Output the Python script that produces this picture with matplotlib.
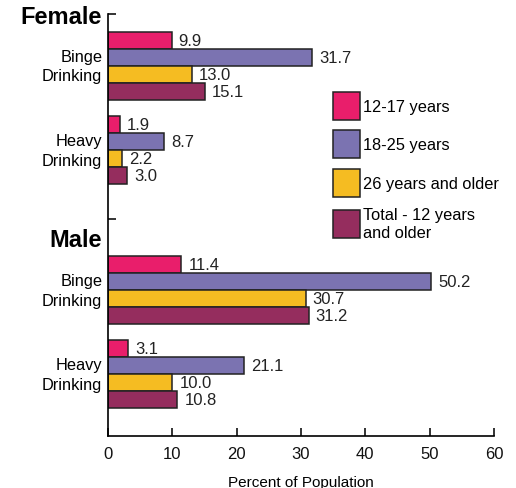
import matplotlib.pyplot as plt
import numpy as np

plt.rcParams['font.family'] = ['Liberation Sans', 'DejaVu Sans']

# data
groups = ['Female', 'Male']
measures = ['Binge\nDrinking', 'Heavy\nDrinking']
series = ['12-17 years', '18-25 years', '26 years and older', 'Total - 12 years\nand older']
colors = ['#E91E6B', '#7B73B1', '#F5BC22', '#952D5E']
female_binge = [9.9, 31.7, 13.0, 15.1]
female_heavy = [1.9, 8.7, 2.2, 3.0]
male_binge = [11.4, 50.2, 30.7, 31.2]
male_heavy = [3.1, 21.1, 10.0, 10.8]
values = [female_binge, female_heavy, male_binge, male_heavy]

# layout of the groups (in bar-height units, top of axis = 0)
group_start = [1.06, 6.0, 14.24, 19.18]
y_bottom = 24.8
y_mid_tick = 12.06

fig = plt.figure(figsize=(5.16, 4.89), dpi=100)
ax = fig.add_axes([0.2093, 0.1063, 0.7481, 0.863])

for s in range(4):
    ys = [g + s + 0.5 for g in group_start]
    vals = [v[s] for v in values]
    bars = ax.barh(ys, vals, height=1.0, color=colors[s], edgecolor='#222222',
                   linewidth=1.1, label=series[s])
    ax.bar_label(bars, labels=[f'{v:.1f}' for v in vals], padding=5, fontsize=12, color='#222222')

ax.set_xlim(0, 60)
ax.set_ylim(y_bottom, 0)
ax.set_xticks(range(0, 61, 10))
ax.set_yticks([0, y_mid_tick])
ax.set_yticklabels([])
ax.tick_params(axis='both', direction='in', length=6, width=1.2, colors='#111111', labelsize=12, pad=7)
ax.spines['top'].set_visible(False)
ax.spines['right'].set_visible(False)
ax.spines['left'].set_linewidth(1.2)
ax.spines['bottom'].set_linewidth(1.2)
ax.set_xlabel('Percent of Population', fontsize=11, labelpad=10)

# category labels
for i, g in enumerate(group_start):
    ax.text(-0.9, g + 2.0, measures[i % 2], ha='right', va='center', fontsize=11.8,
            linespacing=1.4, transform=ax.transData)

# group titles
ax.text(-0.9, 0.15, groups[0], ha='right', va='center', fontsize=17, fontweight='bold')
ax.text(-0.9, 13.25, groups[1], ha='right', va='center', fontsize=17, fontweight='bold')

ax.legend(loc='upper left', bbox_to_anchor=(0.6453, 0.8104), bbox_transform=fig.transFigure,
          frameon=False, fontsize=11.8, handlelength=1.65, handleheight=2.25,
          handletextpad=0.2, labelspacing=0.64, borderpad=0, borderaxespad=0)

fig.savefig('out.png', dpi=100)
